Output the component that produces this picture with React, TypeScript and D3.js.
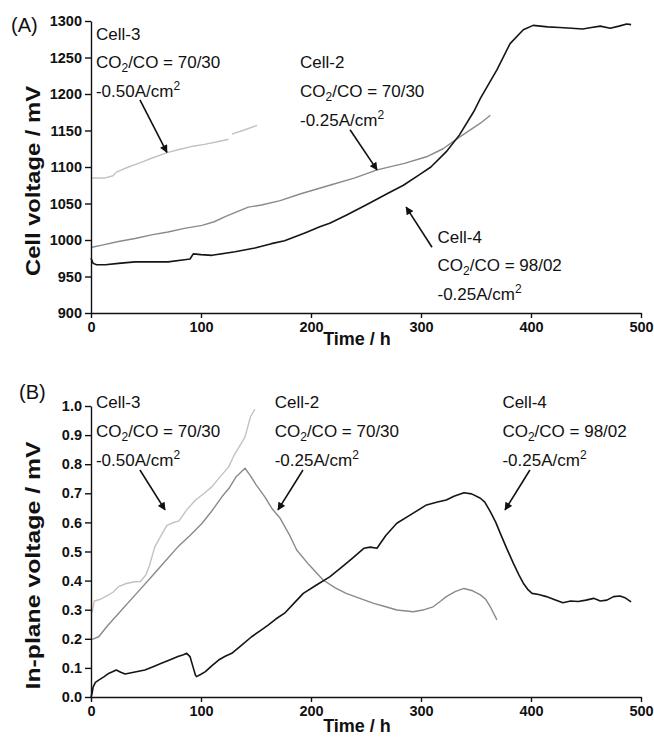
import React, { useEffect, useRef } from "react";
import * as d3 from "d3";

// time (h), value pairs
// panel A: cell voltage / mV
const cell3VoltA: (number[] | null)[] = [
  [1, 1085], [13, 1085], [20, 1088], [23, 1093], [34, 1100], [45, 1106], [55, 1112],
  [70, 1120], [80, 1124], [91, 1128], [103, 1131], [116, 1135], [125, 1138],
  null,
  [128, 1145], [140, 1151], [151, 1157],
];
const cell2VoltA = [
  [1, 990], [10, 993], [25, 998], [40, 1002], [55, 1007], [70, 1011], [85, 1016], [101, 1020],
  [112, 1025], [122, 1032], [133, 1039], [143, 1045], [155, 1048], [172, 1054], [190, 1063],
  [217, 1075], [240, 1085], [260, 1096], [285, 1105], [305, 1114], [320, 1125], [335, 1141],
  [354, 1160], [363, 1171],
];
const cell4VoltA = [
  [0, 975], [2, 968], [5, 966], [13, 966], [25, 968], [40, 970], [55, 970], [70, 970],
  [85, 973], [90, 974], [93, 981], [100, 980], [110, 979], [131, 984], [149, 989], [164, 995],
  [176, 999], [195, 1010], [208, 1018], [217, 1023], [232, 1034], [250, 1048], [270, 1064],
  [284, 1075], [299, 1090], [309, 1100], [323, 1121], [335, 1144], [348, 1176], [354, 1194],
  [362, 1215], [369, 1233], [381, 1269], [393, 1288], [402, 1294], [415, 1292], [426, 1291],
  [437, 1290], [447, 1289], [455, 1291], [463, 1293], [472, 1290], [480, 1293], [487, 1296],
  [491, 1295],
];

// panel B: in-plane voltage / mV
const cell3InPlaneB = [
  [1, 0.29], [3, 0.33], [8, 0.335], [13, 0.345], [20, 0.36], [25, 0.379], [32, 0.39],
  [40, 0.396], [45, 0.397], [50, 0.42], [53, 0.45], [58, 0.516], [63, 0.55], [69, 0.59],
  [73, 0.597], [80, 0.605], [87, 0.643], [95, 0.677], [103, 0.7], [110, 0.723], [118, 0.76],
  [125, 0.79], [130, 0.83], [134, 0.855], [140, 0.894], [145, 0.963], [149, 0.989],
];
const cell2InPlaneB = [
  [1, 0.198], [7, 0.207], [15, 0.245], [25, 0.287], [40, 0.35], [55, 0.413], [67, 0.465],
  [79, 0.516], [90, 0.555], [101, 0.597], [110, 0.64], [119, 0.688], [126, 0.72], [132, 0.757],
  [140, 0.786], [145, 0.76], [150, 0.73], [158, 0.688], [165, 0.645], [172, 0.614], [180, 0.56],
  [187, 0.505], [198, 0.455], [211, 0.402], [222, 0.375], [232, 0.356], [245, 0.338],
  [257, 0.322], [268, 0.31], [278, 0.299], [293, 0.293], [303, 0.3], [311, 0.31], [318, 0.33],
  [323, 0.345], [331, 0.362], [339, 0.373], [347, 0.365], [354, 0.351], [359, 0.335],
  [363, 0.31], [369, 0.265],
];
const cell4InPlaneB = [
  [0, 0.0], [1, 0.013], [2, 0.035], [4, 0.05], [7, 0.058], [12, 0.07], [16, 0.081], [23, 0.093],
  [27, 0.085], [31, 0.079], [40, 0.086], [49, 0.093], [57, 0.105], [64, 0.116], [72, 0.128],
  [79, 0.139], [84, 0.145], [87, 0.15], [90, 0.139], [93, 0.1], [95, 0.075], [96, 0.07],
  [100, 0.078], [104, 0.087], [110, 0.108], [116, 0.127], [122, 0.14], [128, 0.15],
  [137, 0.178], [146, 0.207], [154, 0.228], [161, 0.247], [168, 0.268], [176, 0.288],
  [184, 0.32], [193, 0.356], [205, 0.385], [217, 0.413], [226, 0.44], [237, 0.475],
  [248, 0.511], [254, 0.515], [260, 0.511], [268, 0.555], [278, 0.597], [290, 0.625],
  [305, 0.66], [315, 0.67], [323, 0.677], [330, 0.69], [339, 0.702], [346, 0.698],
  [354, 0.683], [358, 0.67], [363, 0.637], [368, 0.6], [372, 0.563], [378, 0.51], [384, 0.459],
  [389, 0.42], [393, 0.391], [397, 0.37], [401, 0.356], [407, 0.352], [414, 0.345],
  [421, 0.335], [429, 0.324], [436, 0.33], [443, 0.328], [450, 0.333], [457, 0.339],
  [463, 0.33], [469, 0.333], [475, 0.345], [481, 0.347], [486, 0.34], [491, 0.327],
];

const xTicks = [0, 100, 200, 300, 400, 500];
const yTicksA = [900, 950, 1000, 1050, 1100, 1150, 1200, 1250, 1300];
const yTicksB = [0, 0.1, 0.2, 0.3, 0.4, 0.5, 0.6, 0.7, 0.8, 0.9, 1.0];

// annotation labels: [cell, ratio, current]
const labelsA = [
  ["Cell-3", "70/30", "-0.50"],
  ["Cell-2", "70/30", "-0.25"],
  ["Cell-4", "98/02", "-0.25"],
];
const labelsB = [
  ["Cell-3", "70/30", "-0.50"],
  ["Cell-2", "70/30", "-0.25"],
  ["Cell-4", "98/02", "-0.25"],
];
// label anchor (time, value) and arrow [t1, v1, t2, v2]
const labelPosA = [[4.5, 1274], [190, 1235], [315, 996]];
const arrowsA = [
  [44.5, 1192, 69, 1120],
  [235.5, 1151, 260, 1096],
  [310, 990, 286.5, 1045],
];
const labelPosB = [[4.5, 0.993], [167, 0.993], [374, 0.993]];
const arrowsB = [
  [44.5, 0.78, 67.3, 0.643],
  [192.7, 0.78, 170, 0.643],
  [399, 0.78, 376.4, 0.643],
];

const colors = { cell4: "#151515", cell2: "#8a8a8a", cell3: "#c2c2c2" };
const font = "'Liberation Sans', Arial, sans-serif";

const width = 654;
const height = 742;
const xLeft = 91;
const xRight = 641;

const App = () => {
  const ref = useRef<SVGSVGElement>(null);

  useEffect(() => {
    const svg = d3.select(ref.current);
    svg.selectAll("*").remove();

    svg
      .append("defs")
      .append("marker")
      .attr("id", "arrowhead")
      .attr("markerUnits", "userSpaceOnUse")
      .attr("viewBox", "0 0 10 10")
      .attr("refX", 9)
      .attr("refY", 5)
      .attr("markerWidth", 9)
      .attr("markerHeight", 8)
      .attr("orient", "auto")
      .append("path")
      .attr("d", "M0,0 L10,5 L0,10 z")
      .attr("fill", "#111");

    const xScale = d3.scaleLinear().domain([0, 500]).range([xLeft, xRight]);

    const drawPanel = (
      opts: {
        top: number;
        bottom: number;
        domain: number[];
        yTicks: number[];
        fmt: (d: number) => string;
        series: { data: any[]; color: string; width: number }[];
        labels: string[][];
        labelPos: number[][];
        arrows: number[][];
        tag: string;
        tagX: number;
        tagY: number;
        yTitle: string;
        yTitleLen: number;
        xTitleY: number;
      }
    ) => {
      const yScale = d3.scaleLinear().domain(opts.domain).range([opts.bottom, opts.top]);
      const g = svg.append("g");

      const line = d3
        .line<any>()
        .defined((d) => d !== null)
        .x((d) => xScale(d[0]))
        .y((d) => yScale(d[1]));

      opts.series.forEach((s) => {
        g.append("path")
          .attr("d", line(s.data))
          .attr("fill", "none")
          .attr("stroke", s.color)
          .attr("stroke-width", s.width)
          .attr("stroke-linejoin", "round");
      });

      const xAxis = g
        .append("g")
        .attr("transform", `translate(0,${opts.bottom})`)
        .call(d3.axisBottom(xScale).tickValues(xTicks).tickSize(5).tickSizeOuter(0).tickPadding(4));
      const yAxis = g
        .append("g")
        .attr("transform", `translate(${xLeft},0)`)
        .call(
          d3
            .axisLeft(yScale)
            .tickValues(opts.yTicks)
            .tickSize(6)
            .tickSizeOuter(0)
            .tickPadding(3)
            .tickFormat((d: any) => opts.fmt(d))
        );
      [xAxis, yAxis].forEach((ax) => {
        ax.selectAll("path, line").attr("stroke", "#111").attr("stroke-width", 1.4);
        ax.selectAll("text")
          .attr("fill", "#111")
          .style("font-family", font)
          .style("font-weight", "bold")
          .style("font-size", "14.5px");
      });

      g.append("text")
        .attr("x", (xLeft + xRight) / 2 - 9)
        .attr("y", opts.xTitleY)
        .attr("text-anchor", "middle")
        .style("font-family", font)
        .style("font-weight", "bold")
        .style("font-size", "18px")
        .attr("fill", "#111")
        .text("Time / h");

      g.append("text")
        .attr("transform", `translate(40,${(opts.top + opts.bottom) / 2 + 14}) rotate(-90)`)
        .attr("text-anchor", "middle")
        .attr("textLength", opts.yTitleLen)
        .attr("lengthAdjust", "spacingAndGlyphs")
        .style("font-family", font)
        .style("font-weight", "bold")
        .style("font-size", "20px")
        .attr("fill", "#111")
        .text(opts.yTitle);

      g.append("text")
        .attr("x", opts.tagX)
        .attr("y", opts.tagY)
        .style("font-family", font)
        .style("font-size", "20px")
        .attr("fill", "#111")
        .text(opts.tag);

      opts.labels.forEach((lab, i) => {
        const x = xScale(opts.labelPos[i][0]);
        const y0 = yScale(opts.labelPos[i][1]);
        const t = g
          .append("text")
          .style("font-family", font)
          .style("font-size", "17px")
          .attr("fill", "#111");
        t.append("tspan").attr("x", x).attr("y", y0).text(lab[0]);
        const l2 = t.append("tspan").attr("x", x).attr("y", y0 + 28.5);
        l2.append("tspan").text("CO");
        l2.append("tspan").attr("dy", 4).style("font-size", "12px").text("2");
        l2.append("tspan").attr("dy", -4).text(`/CO = ${lab[1]}`);
        const l3 = t.append("tspan").attr("x", x).attr("y", y0 + 57.5);
        l3.append("tspan").text(`${lab[2]}A/cm`);
        l3.append("tspan").attr("dy", -7).style("font-size", "12px").text("2");

        const a = opts.arrows[i];
        g.append("line")
          .attr("x1", xScale(a[0]))
          .attr("y1", yScale(a[1]))
          .attr("x2", xScale(a[2]))
          .attr("y2", yScale(a[3]))
          .attr("stroke", "#111")
          .attr("stroke-width", 1.6)
          .attr("marker-end", "url(#arrowhead)");
      });
    };

    drawPanel({
      top: 21,
      bottom: 313,
      domain: [900, 1300],
      yTicks: yTicksA,
      fmt: (d) => d3.format("d")(d),
      series: [
        { data: cell3VoltA, color: colors.cell3, width: 1.4 },
        { data: cell2VoltA, color: colors.cell2, width: 1.4 },
        { data: cell4VoltA, color: colors.cell4, width: 1.6 },
      ],
      labels: labelsA,
      labelPos: labelPosA,
      arrows: arrowsA,
      tag: "(A)",
      tagX: 11,
      tagY: 32,
      yTitle: "Cell voltage / mV",
      yTitleLen: 190,
      xTitleY: 345,
    });

    drawPanel({
      top: 406,
      bottom: 697,
      domain: [0, 1],
      yTicks: yTicksB,
      fmt: (d) => d3.format(".1f")(d),
      series: [
        { data: cell3InPlaneB, color: colors.cell3, width: 1.4 },
        { data: cell2InPlaneB, color: colors.cell2, width: 1.4 },
        { data: cell4InPlaneB, color: colors.cell4, width: 1.6 },
      ],
      labels: labelsB,
      labelPos: labelPosB,
      arrows: arrowsB,
      tag: "(B)",
      tagX: 19,
      tagY: 399,
      yTitle: "In-plane voltage / mV",
      yTitleLen: 248,
      xTitleY: 732,
    });
  }, []);

  return (
    <svg
      ref={ref}
      width={width}
      height={height}
      style={{ position: "absolute", left: 0, top: 0, background: "#fff" }}
    />
  );
};

export default App;
